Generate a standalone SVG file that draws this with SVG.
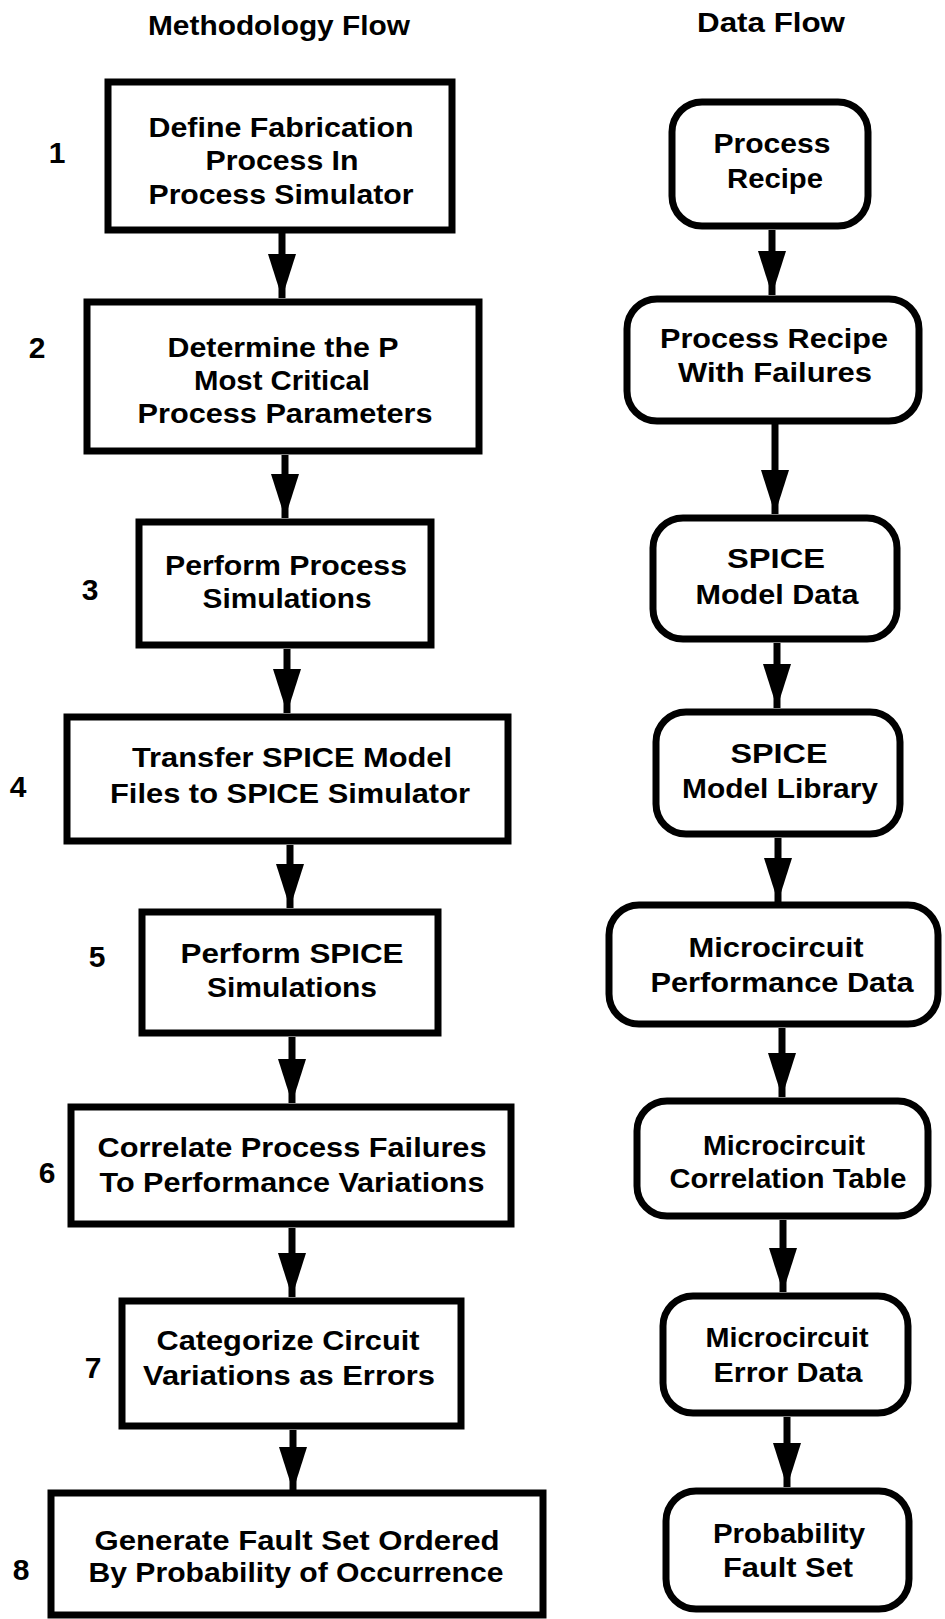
<svg xmlns="http://www.w3.org/2000/svg" width="945" height="1619" viewBox="0 0 945 1619">
<style>
  .bg { fill: #ffffff; }
  .box { fill: #ffffff; stroke: #000000; stroke-width: 7; }
  .t { font-family: "Liberation Sans", Arial, Helvetica, sans-serif; font-weight: bold; font-size: 28px; fill: #000000; text-anchor: middle; }
  .h { font-family: "Liberation Sans", Arial, Helvetica, sans-serif; font-weight: bold; font-size: 28px; fill: #000000; text-anchor: middle; }
  .n { font-family: "Liberation Sans", Arial, Helvetica, sans-serif; font-weight: bold; font-size: 30px; fill: #000000; text-anchor: middle; }
  .c { stroke: #000000; stroke-width: 7; fill: none; marker-end: url(#ah); }
</style>
<defs>
  <marker id="ah" viewBox="0 0 44 28" refX="44" refY="14" markerWidth="44" markerHeight="28" markerUnits="userSpaceOnUse" orient="auto">
    <path d="M0,0 L44,14 L0,28 Z" fill="#000000"/>
  </marker>
</defs>
<rect class="bg" x="0" y="0" width="945" height="1619"/>

<g id="headers">
  <text class="h" x="279" y="35" textLength="262" lengthAdjust="spacingAndGlyphs">Methodology Flow</text>
  <text class="h" x="771" y="32" textLength="148" lengthAdjust="spacingAndGlyphs">Data Flow</text>
</g>

<g id="connectors">
  <path class="c" d="M282,233 L282,298"/>
  <path class="c" d="M285,455 L285,518"/>
  <path class="c" d="M287,649 L287,713"/>
  <path class="c" d="M290,845 L290,908"/>
  <path class="c" d="M292,1037 L292,1103"/>
  <path class="c" d="M292,1228 L292,1297"/>
  <path class="c" d="M293,1430 L293,1491"/>
  <path class="c" d="M772,230 L772,295"/>
  <path class="c" d="M775,424 L775,514"/>
  <path class="c" d="M777,643 L777,708"/>
  <path class="c" d="M778,838 L778,902"/>
  <path class="c" d="M782,1028 L782,1097"/>
  <path class="c" d="M783,1220 L783,1292"/>
  <path class="c" d="M787,1417 L787,1487"/>
</g>

<g id="step1">
  <text class="n" x="57" y="163">1</text>
  <rect class="box" x="108" y="82" width="344" height="148"/>
  <text class="t" x="281" y="137" textLength="265" lengthAdjust="spacingAndGlyphs">Define Fabrication</text>
  <text class="t" x="282" y="170" textLength="153" lengthAdjust="spacingAndGlyphs">Process In</text>
  <text class="t" x="281" y="204" textLength="265" lengthAdjust="spacingAndGlyphs">Process Simulator</text>
</g>
<g id="step2">
  <text class="n" x="37" y="358">2</text>
  <rect class="box" x="87" y="302" width="392" height="149"/>
  <text class="t" x="283" y="357" textLength="231" lengthAdjust="spacingAndGlyphs">Determine the P</text>
  <text class="t" x="282" y="390" textLength="176" lengthAdjust="spacingAndGlyphs">Most Critical</text>
  <text class="t" x="285" y="423" textLength="295" lengthAdjust="spacingAndGlyphs">Process Parameters</text>
</g>
<g id="step3">
  <text class="n" x="90" y="600">3</text>
  <rect class="box" x="139" y="522" width="292" height="123"/>
  <text class="t" x="286" y="575" textLength="242" lengthAdjust="spacingAndGlyphs">Perform Process</text>
  <text class="t" x="287" y="608" textLength="169" lengthAdjust="spacingAndGlyphs">Simulations</text>
</g>
<g id="step4">
  <text class="n" x="18" y="797">4</text>
  <rect class="box" x="67" y="717" width="441" height="124"/>
  <text class="t" x="292" y="767" textLength="320" lengthAdjust="spacingAndGlyphs">Transfer SPICE Model</text>
  <text class="t" x="290" y="803" textLength="360" lengthAdjust="spacingAndGlyphs">Files to SPICE Simulator</text>
</g>
<g id="step5">
  <text class="n" x="97" y="967">5</text>
  <rect class="box" x="142" y="912" width="296" height="121"/>
  <text class="t" x="292" y="963" textLength="223" lengthAdjust="spacingAndGlyphs">Perform SPICE</text>
  <text class="t" x="292" y="997" textLength="170" lengthAdjust="spacingAndGlyphs">Simulations</text>
</g>
<g id="step6">
  <text class="n" x="47" y="1183">6</text>
  <rect class="box" x="71" y="1107" width="440" height="117"/>
  <text class="t" x="292" y="1157" textLength="389" lengthAdjust="spacingAndGlyphs">Correlate Process Failures</text>
  <text class="t" x="292" y="1192" textLength="385" lengthAdjust="spacingAndGlyphs">To Performance Variations</text>
</g>
<g id="step7">
  <text class="n" x="93" y="1378">7</text>
  <rect class="box" x="122" y="1301" width="339" height="125"/>
  <text class="t" x="288" y="1350" textLength="263" lengthAdjust="spacingAndGlyphs">Categorize Circuit</text>
  <text class="t" x="289" y="1385" textLength="292" lengthAdjust="spacingAndGlyphs">Variations as Errors</text>
</g>
<g id="step8">
  <text class="n" x="21" y="1580">8</text>
  <rect class="box" x="51" y="1493" width="492" height="122"/>
  <text class="t" x="297" y="1550" textLength="405" lengthAdjust="spacingAndGlyphs">Generate Fault Set Ordered</text>
  <text class="t" x="296" y="1582" textLength="415" lengthAdjust="spacingAndGlyphs">By Probability of Occurrence</text>
</g>

<g id="data1">
  <rect class="box" x="672" y="102" width="196" height="124" rx="30" ry="30"/>
  <text class="t" x="772" y="153" textLength="117" lengthAdjust="spacingAndGlyphs">Process</text>
  <text class="t" x="775" y="188" textLength="96" lengthAdjust="spacingAndGlyphs">Recipe</text>
</g>
<g id="data2">
  <rect class="box" x="627" y="299" width="292" height="122" rx="30" ry="30"/>
  <text class="t" x="774" y="348" textLength="228" lengthAdjust="spacingAndGlyphs">Process Recipe</text>
  <text class="t" x="775" y="382" textLength="194" lengthAdjust="spacingAndGlyphs">With Failures</text>
</g>
<g id="data3">
  <rect class="box" x="653" y="518" width="244" height="121" rx="30" ry="30"/>
  <text class="t" x="776" y="568" textLength="98" lengthAdjust="spacingAndGlyphs">SPICE</text>
  <text class="t" x="777" y="604" textLength="163" lengthAdjust="spacingAndGlyphs">Model Data</text>
</g>
<g id="data4">
  <rect class="box" x="656" y="712" width="244" height="122" rx="30" ry="30"/>
  <text class="t" x="779" y="763" textLength="97" lengthAdjust="spacingAndGlyphs">SPICE</text>
  <text class="t" x="780" y="798" textLength="196" lengthAdjust="spacingAndGlyphs">Model Library</text>
</g>
<g id="data5">
  <rect class="box" x="609" y="905" width="329" height="119" rx="30" ry="30"/>
  <text class="t" x="776" y="957" textLength="175" lengthAdjust="spacingAndGlyphs">Microcircuit</text>
  <text class="t" x="782" y="992" textLength="263" lengthAdjust="spacingAndGlyphs">Performance Data</text>
</g>
<g id="data6">
  <rect class="box" x="637" y="1101" width="291" height="115" rx="30" ry="30"/>
  <text class="t" x="784" y="1155" textLength="162" lengthAdjust="spacingAndGlyphs">Microcircuit</text>
  <text class="t" x="788" y="1188" textLength="237" lengthAdjust="spacingAndGlyphs">Correlation Table</text>
</g>
<g id="data7">
  <rect class="box" x="663" y="1296" width="245" height="117" rx="30" ry="30"/>
  <text class="t" x="787" y="1347" textLength="163" lengthAdjust="spacingAndGlyphs">Microcircuit</text>
  <text class="t" x="788" y="1382" textLength="149" lengthAdjust="spacingAndGlyphs">Error Data</text>
</g>
<g id="data8">
  <rect class="box" x="666" y="1491" width="243" height="118" rx="30" ry="30"/>
  <text class="t" x="789" y="1543" textLength="152" lengthAdjust="spacingAndGlyphs">Probability</text>
  <text class="t" x="788" y="1577" textLength="130" lengthAdjust="spacingAndGlyphs">Fault Set</text>
</g>
</svg>
